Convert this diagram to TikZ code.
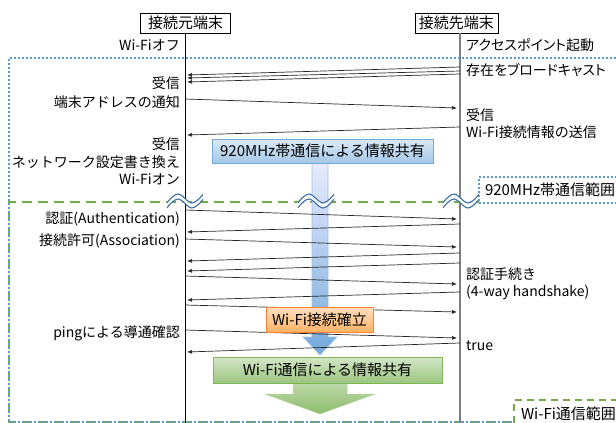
\documentclass[tikz,border=0pt]{standalone}
\usepackage{fontspec}
\setmainfont{Noto Sans CJK JP}
\usetikzlibrary{arrows.meta}
\definecolor{dotblue}{HTML}{5B9BD5}
\definecolor{dashgreen}{HTML}{70AD47}
\definecolor{wavy}{HTML}{3B6FA6}
\definecolor{lifegray}{HTML}{7F7F7F}
\tikzset{
  lbl/.style={font=\fontsize{14}{16}\selectfont, inner sep=0pt},
  lblp/.style={font=\fontsize{14}{16}\selectfont\addfontfeature{RawFeature=+palt}, inner sep=0pt},
  headbox/.style={draw=black, line width=0.8pt, fill=white, inner sep=0pt, minimum height=20, font=\fontsize{15}{17}\selectfont},
  msg/.style={draw=black!85, line width=0.7pt, -{Latex[length=5pt,width=4pt]}},
  cbox/.style={inner sep=0pt, line width=0.8pt, font=\fontsize{15}{17}\selectfont},
  rangeb/.style={draw=dotblue, line width=2pt, dash pattern=on 2pt off 2pt, fill=white, inner xsep=6pt, inner ysep=0pt, minimum height=26, text width=140, align=left, font=\fontsize{15}{17}\selectfont},
  rangeg/.style={draw=dashgreen, line width=2pt, dash pattern=on 7pt off 5pt, fill=white, inner xsep=7pt, inner ysep=0pt, minimum height=28, text width=120, align=left, font=\fontsize{15}{17}\selectfont},
  brk/.pic={
    \fill[white] (-18,1.7) .. controls (-14,-3.5) and (-10,-7) .. (-6.5,-7) .. controls (-3,-7) and (3,2) .. (6.5,2) .. controls (10,2) and (14,-1.5) .. (18,-6.7)
      -- (18,-1.7) .. controls (14,3.5) and (10,7) .. (6.5,7) .. controls (3,7) and (-3,-2) .. (-6.5,-2) .. controls (-10,-2) and (-14,1.5) .. (-18,6.7) -- cycle;
    \draw[wavy, line width=1.1pt] (-18,1.7) .. controls (-14,-3.5) and (-10,-7) .. (-6.5,-7) .. controls (-3,-7) and (3,2) .. (6.5,2) .. controls (10,2) and (14,-1.5) .. (18,-6.7);
    \draw[wavy, line width=1.1pt] (18,-1.7) .. controls (14,3.5) and (10,7) .. (6.5,7) .. controls (3,7) and (-3,-2) .. (-6.5,-2) .. controls (-10,-2) and (-14,1.5) .. (-18,6.7);
  }
}
\begin{document}
\begin{tikzpicture}[x=1pt,y=-1pt]
\useasboundingbox (0,0) rectangle (616,423);
\clip (0,0) rectangle (616,423);
% ranges
\draw[dashgreen, line width=2.5pt, dash pattern=on 10pt off 6pt] (640,202) -- (9,202) -- (9,422) -- (640,422);
\draw[dotblue, line width=2pt, dash pattern=on 2pt off 2pt] (640,58) -- (9,58) -- (9,422) -- (640,422);
% head boxes
\node[headbox, minimum width=90] (src) at (185.7,23) {接続元端末};
\node[headbox, minimum width=83] (dst) at (456.4,23) {接続先端末};
\coordinate (Ltop) at (185,33);
\coordinate (Lbot) at (185,423);
\coordinate (Rtop) at (460,33);
\coordinate (Rbot) at (460,423);
\draw[black, line width=0.9pt] (Ltop) -- (Lbot);
\draw[lifegray, line width=1.1pt] (Rtop) -- (Rbot);
% center blue arrow
\path[top color=blue!8!white, bottom color=dotblue!85!white, draw=dotblue!60!white, line width=0.6pt]
  (312,160) -- (328,160) -- (328,337) -- (337,337) -- (320,355) -- (303,337) -- (312,337) -- cycle;
% messages
\foreach \n/\ax/\ay/\bx/\by in {
  1/460/67/187/75, 2/460/71/187/78, 3/460/74/187/82,
  4/185/99/457/108, 5/460/127/187/135,
  6/185/210/457/219, 7/460/224/187/232, 8/185/239/457/247,
  9/460/253/187/261, 10/460/263/187/271, 11/185/276/457/284,
  12/460/292/187/300, 13/185/305/457/312, 14/185/330/457/338,
  15/460/343/187/352} {
  \coordinate (ms\n) at (\ax,\ay);
  \coordinate (me\n) at (\bx,\by);
  \draw[msg] (ms\n) -- (me\n);
}
% green arrow
\path[top color=dashgreen!35!white, bottom color=dashgreen!80!white, draw=dashgreen!50!white, line width=0.5pt]
  (293,372) -- (347,372) -- (347,394) -- (375,394) -- (320,414) -- (265,394) -- (293,394) -- cycle;
% boxes
\node[cbox, minimum width=221, minimum height=24, top color=dotblue!22!white, bottom color=dotblue!55!white, draw=dotblue!85!white] (b920) at (322.5,151) {920MHz帯通信による情報共有};
\node[cbox, minimum width=107, minimum height=25, top color=orange!25!white, bottom color=orange!60!white, draw=orange!75!red!80!white] (bwc) at (319.5,319.5) {Wi-Fi接続確立};
\node[cbox, minimum width=229, minimum height=26, top color=dashgreen!30!white, bottom color=dashgreen!70!white, draw=dashgreen!90!white] (bwf) at (327.5,370) {Wi-Fi通信による情報共有};
% break marks
\pic at (185,201) {brk};
\pic at (316,201) {brk};
\pic at (461,201) {brk};
% range labels
\node[rangeb, anchor=west] (r920) at (478,190) {920MHz帯通信範囲};
\node[rangeg, anchor=north west] (rwf) at (513,399) {Wi-Fi通信範囲};
% left labels
\node[lbl, anchor=east] (l1) at (180,45) {Wi-Fiオフ};
\node[lbl, anchor=east] (l2) at (180,83) {受信};
\node[lbl, anchor=east] (l3) at (180,102) {端末アドレスの通知};
\node[lbl, anchor=east] (l4) at (180,144) {受信};
\node[lbl, anchor=east] (l5) at (180,162) {ネットワーク設定書き換え};
\node[lbl, anchor=east] (l6) at (180,179) {Wi-Fiオン};
\node[lbl, anchor=east] (l7) at (180,219) {認証(Authentication)};
\node[lbl, anchor=east] (l8) at (180,241) {接続許可(Association)};
\node[lbl, anchor=east] (l9) at (180,333) {pingによる導通確認};
% right labels
\node[lblp, anchor=west] (r1) at (466,45) {アクセスポイント起動};
\node[lblp, anchor=west] (r2) at (466,70) {存在をブロードキャスト};
\node[lbl, anchor=west] (r3) at (466,115) {受信};
\node[lbl, anchor=west] (r4) at (466,132) {Wi-Fi接続情報の送信};
\node[lbl, anchor=west] (r5) at (466,274) {認証手続き};
\node[lbl, anchor=west] (r6) at (466,292) {(4-way handshake)};
\node[lbl, anchor=west] (r7) at (466,346) {true};
\end{tikzpicture}
\end{document}
